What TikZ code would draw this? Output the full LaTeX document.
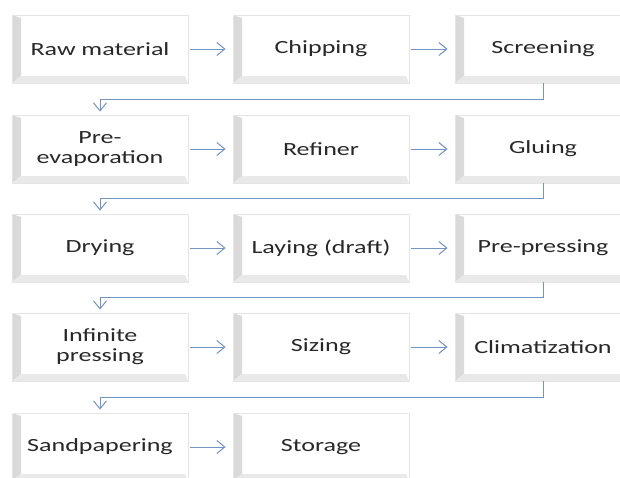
\documentclass[tikz,border=0pt]{standalone}
\usepackage{fontspec}
\setmainfont[FakeStretch=1.4]{Carlito}
\usetikzlibrary{arrows.meta}

\definecolor{linkblue}{RGB}{115,148,192}
\definecolor{stagetext}{RGB}{40,40,40}

\tikzset{
  stage/.style={minimum width=176pt, minimum height=68pt, inner sep=0pt,
    align=center, fill=white, draw=gray!20, line width=0.8pt,
    text=stagetext, font=\fontsize{18.6}{20}\selectfont,
    path picture={
      \shade[left color=gray!30, right color=white]
        (path picture bounding box.south west)
        -- (path picture bounding box.north west)
        -- ([shift={(9pt,-3pt)}]path picture bounding box.north west)
        -- ([shift={(9pt,7pt)}]path picture bounding box.south west) -- cycle;
      \fill[gray!17]
        (path picture bounding box.south west)
        -- ([shift={(9pt,7pt)}]path picture bounding box.south west)
        -- ([shift={(-3pt,7pt)}]path picture bounding box.south east)
        -- (path picture bounding box.south east) -- cycle;
    }},
  flow/.style={draw=linkblue, line width=1pt,
    -{Straight Barb[length=8pt,width=13pt]}}
}

\begin{document}
\begin{tikzpicture}[x=1pt, y=1pt]
  \useasboundingbox (0,0) rectangle (620,-477);

  % Row 1
  \node[stage] (raw)    at (100,-49) {Raw material};
  \node[stage] (chip)   at (321,-49) {Chipping};
  \node[stage] (screen) at (543,-49) {Screening};

  % Row 2
  \node[stage] (preevap) at (100,-149) {Pre-\\evaporation};
  \node[stage] (refiner) at (321,-149) {Refiner};
  \node[stage] (gluing)  at (543,-149) {Gluing};

  % Row 3
  \node[stage] (drying)   at (100,-248) {Drying};
  \node[stage] (laying)   at (321,-248) {Laying (draft)};
  \node[stage] (prepress) at (543,-248) {Pre-pressing};

  % Row 4
  \node[stage] (infinite) at (100,-347) {Infinite\\pressing};
  \node[stage] (sizing)   at (321,-347) {Sizing};
  \node[stage] (climate)  at (543,-347) {Climatization};

  % Row 5
  \node[stage] (sand)    at (100,-447) {Sandpapering};
  \node[stage] (storage) at (321,-447) {Storage};

  % Arrows within rows
  \draw[flow] ([xshift=2pt]raw.east) -- ([xshift=-7pt]chip.west);
  \draw[flow] ([xshift=2pt]chip.east) -- ([xshift=-7pt]screen.west);
  \draw[flow] ([xshift=2pt]preevap.east) -- ([xshift=-7pt]refiner.west);
  \draw[flow] ([xshift=2pt]refiner.east) -- ([xshift=-7pt]gluing.west);
  \draw[flow] ([xshift=2pt]drying.east) -- ([xshift=-7pt]laying.west);
  \draw[flow] ([xshift=2pt]laying.east) -- ([xshift=-7pt]prepress.west);
  \draw[flow] ([xshift=2pt]infinite.east) -- ([xshift=-7pt]sizing.west);
  \draw[flow] ([xshift=2pt]sizing.east) -- ([xshift=-7pt]climate.west);
  \draw[flow] ([xshift=2pt]sand.east) -- ([xshift=-7pt]storage.west);

  % Return arrows between rows
  \draw[flow] (screen.south) -- ++(0,-16) -| ([yshift=3pt]preevap.north);
  \draw[flow] (gluing.south) -- ++(0,-15) -| ([yshift=3pt]drying.north);
  \draw[flow] (prepress.south) -- ++(0,-15) -| ([yshift=3pt]infinite.north);
  \draw[flow] (climate.south) -- ++(0,-16) -| ([yshift=3pt]sand.north);
\end{tikzpicture}
\end{document}
